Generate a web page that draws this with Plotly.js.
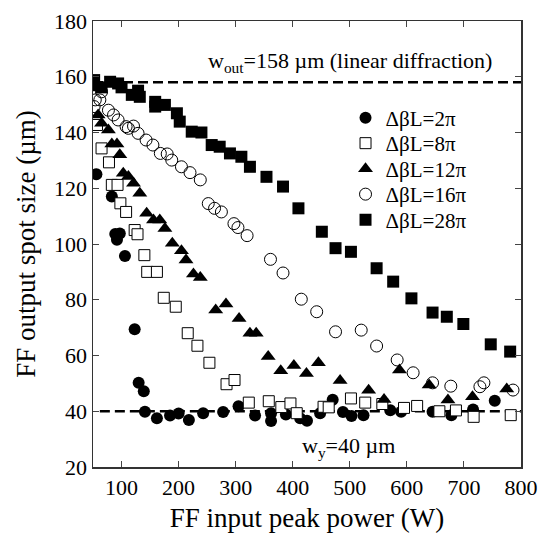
<!DOCTYPE html>
<html>
<head>
<meta charset="utf-8">
<script src="https://cdn.plot.ly/plotly-3.0.1.min.js"></script>
<style>html,body{margin:0;padding:0;background:#fff;}#chart{width:540px;height:533px;}</style>
</head>
<body>
<div id="chart"></div>
<script>
// Data
const x2pi = [56,83,89,92,97,106,123,130,139,141,162,185,200,218,243,278,305,334,362,362,388,413,425,448,470,488,503,524,571,590,645,678,716,754];
const y2pi = [125,117,103.6,101.5,103.8,95.7,69.4,50.2,47.2,39.8,37.5,38.5,39.2,36.9,39.3,39.7,41.8,38.5,39.3,36.5,38.8,37.5,36.6,39.3,44.1,39.7,38.3,38.6,40.4,39.8,39.8,38.6,40.6,43.8];

const x8pi = [57,65,78,83,93,98,108,123,128,140,145,162,174,195,216,233,254,284,298,323,358,380,396,407,454,463,502,527,557,595,618,657,686,717,782];
const y8pi = [142.7,134.3,129.3,121.2,121.2,114.6,111.5,105,103.5,96,90,90,80.7,77.5,68,63.5,57.4,49.7,51.2,43.1,43.6,41.5,42.8,39.3,41.6,41.4,44.6,43.1,42.6,41.2,41.9,40,40.3,38,38.6];

const x12pi = [52,59,65,77,83,92,97,103,112,121,132,144,156,167,176,189,205,213,226,238,265,283,306,325,336,357,379,402,424,445,483,533,560,587,639,672,715,775];
const y12pi = [156,146.3,143.3,140.9,135.9,135.9,132,125.4,124.2,121.8,118.2,111,108.6,108.6,105.6,100.3,97.6,94.3,89.2,88,76.3,78.5,73.3,68,68,59.6,54.5,56.4,53.5,57.4,51,47.5,44.2,54.8,49.4,44,45.2,48];

const x16pi = [52,54,62,65,77,86,94,108,112,121,129,143,155,168,180,188,205,220,238,252,263,275,297,304,320,361,383,415,442,475,520,547,583,611,645,677,728,735,786];
const y16pi = [149.3,151.7,151.7,154.6,148,146.3,144.5,142.1,141.5,142.3,139.7,137.3,135.5,132.5,132.3,130.1,127.7,125.6,123,114.5,112.8,111.5,107.3,105.9,103,94.5,89.6,80.2,75.7,68.5,69.1,63.4,58.4,53.8,50.2,49,48.8,50.2,47.6];

const x28pi = [52,65,80,94,100,118,129,132,159,159,176,197,202,223,240,258,272,290,310,325,354,383,410,451,475,502,547,576,608,645,670,699,747,781];
const y28pi = [158.8,156.2,158.2,157.6,156.2,153.5,155,152.8,151,149.3,149.9,146.9,143.9,140.3,140,135.5,134.9,132.5,131.3,127.7,124.1,120.6,112.8,104.4,98.5,97.2,91.3,86.5,80.5,75.4,73.9,71.3,64,61.4];

const seriesNames = ["ΔβL=2π","ΔβL=8π","ΔβL=12π","ΔβL=16π","ΔβL=28π"];
const refLevels = [158, 40];          // w_out and w_y reference lines (µm)
const xTicks = [100,200,300,400,500,600,700,800];
const yTicks = [20,40,60,80,100,120,140,160,180];

const FONT = "Liberation Serif";

function mk(x, y, name, legendId, marker) {
  return {x:x, y:y, name:name, type:'scatter', mode:'markers', legend:legendId,
          marker:marker, hoverinfo:'skip'};
}

const traces = [
  mk(x2pi, y2pi, seriesNames[0], 'legend',  {symbol:'circle', size:12, color:'#000'}),
  mk(x8pi, y8pi, seriesNames[1], 'legend2', {symbol:'square', size:11, color:'#fff', line:{color:'#000', width:1}}),
  mk(x12pi, y12pi, seriesNames[2], 'legend3', {symbol:'triangle-up', size:13, color:'#000'}),
  mk(x16pi, y16pi, seriesNames[3], 'legend4', {symbol:'circle-open', size:12, color:'#000', line:{color:'#000', width:1}}),
  mk(x28pi, y28pi, seriesNames[4], 'legend5', {symbol:'square', size:12, color:'#000'})
];

function leg(yp) {
  return {x:0.59, y:yp, xanchor:'left', yanchor:'middle', bgcolor:'rgba(0,0,0,0)',
          borderwidth:0, font:{family:FONT, size:21, color:'#000'}, itemwidth:30};
}

const layout = {
  width:540, height:533,
  margin:{l:93, r:19, t:21, b:66},
  paper_bgcolor:'#fff', plot_bgcolor:'#fff',
  font:{family:FONT, color:'#000'},
  showlegend:true,
  legend: leg(0.7825),
  legend2: leg(0.7253),
  legend3: leg(0.6682),
  legend4: leg(0.611),
  legend5: leg(0.5538),
  xaxis:{range:[50,800], tickvals:xTicks, ticks:'inside', ticklen:6, tickwidth:1, tickcolor:'#444',
         showline:true, linecolor:'#333', linewidth:1.5, mirror:'ticks', showgrid:false, zeroline:false,
         tickfont:{family:FONT, size:22, color:'#000'},
         title:{text:'FF input peak power (W)', font:{family:FONT, size:27, color:'#000'}, standoff:12}},
  yaxis:{range:[20,180], tickvals:yTicks, ticks:'inside', ticklen:6, tickwidth:1, tickcolor:'#444',
         showline:true, linecolor:'#333', linewidth:1.5, mirror:'ticks', showgrid:false, zeroline:false,
         tickfont:{family:FONT, size:22, color:'#000'},
         title:{text:'FF output spot size (µm)', font:{family:FONT, size:27, color:'#000'}, standoff:10}},
  shapes:[
    {type:'line', xref:'x', yref:'y', x0:50, x1:800, y0:refLevels[0], y1:refLevels[0], layer:'below',
     line:{color:'#000', width:2.5, dash:'10px,5px'}},
    {type:'line', xref:'x', yref:'y', x0:62, x1:800, y0:refLevels[1], y1:refLevels[1], layer:'below',
     line:{color:'#000', width:2.5, dash:'10px,5px'}}
  ],
  annotations:[
    {x:248, y:165.3, xref:'x', yref:'y', xanchor:'left', yanchor:'middle', showarrow:false,
     text:'w<sub>out</sub>=158 µm (linear diffraction)', font:{family:FONT, size:22, color:'#000'}},
    {x:413, y:27.2, xref:'x', yref:'y', xanchor:'left', yanchor:'middle', showarrow:false,
     text:'w<sub>y</sub>=40 µm', font:{family:FONT, size:22, color:'#000'}}
  ]
};

Plotly.newPlot('chart', traces, layout, {staticPlot:true, displayModeBar:false});
</script>
</body>
</html>
